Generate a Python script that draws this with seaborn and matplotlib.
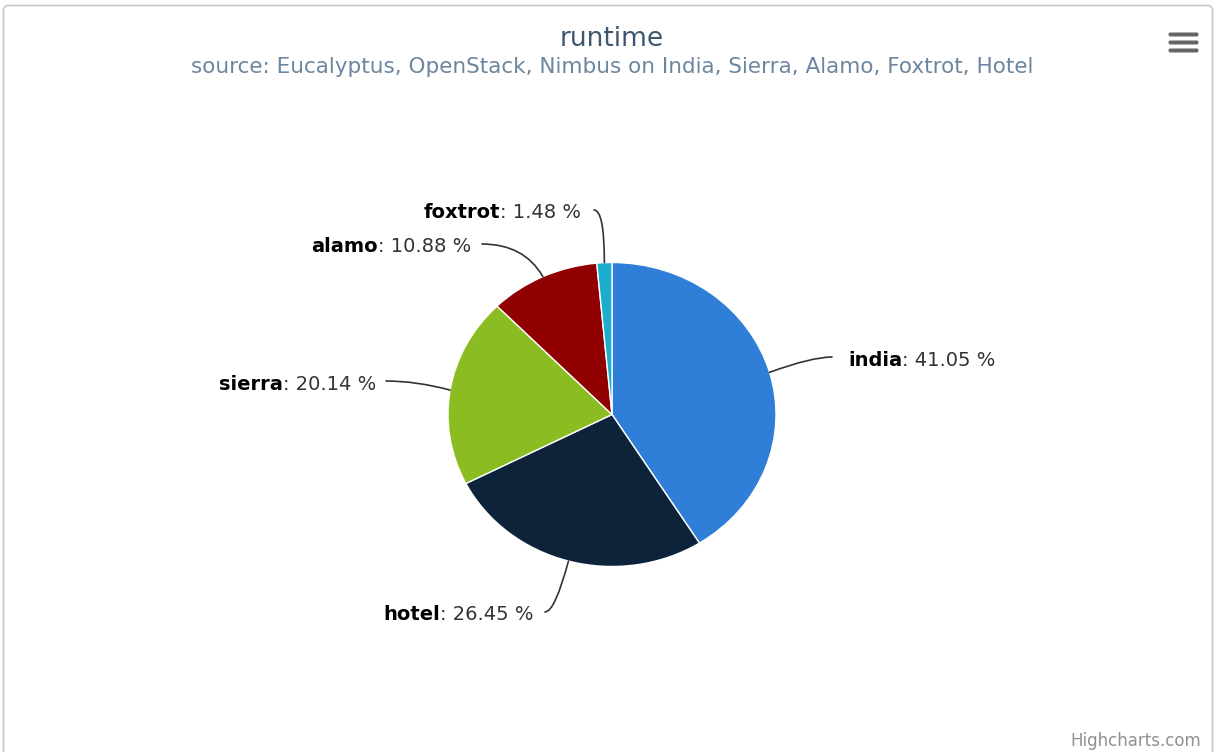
import numpy as np
import matplotlib
matplotlib.use("Agg")
import matplotlib.pyplot as plt
import seaborn as sns
from matplotlib.offsetbox import TextArea, HPacker, AnnotationBbox
from matplotlib.patches import FancyBboxPatch

# ---- data ----
categories = ["india", "hotel", "sierra", "alamo", "foxtrot"]
shares = [41.05, 26.45, 20.14, 10.88, 1.48]
colors = ["#2f7ed8", "#0d233a", "#8bbc21", "#910000", "#1aadce"]
title = "runtime"
subtitle = "source: Eucalyptus, OpenStack, Nimbus on India, Sierra, Alamo, Foxtrot, Hotel"

sns.set_theme(style="white")
plt.rcParams["font.family"] = ["DejaVu Sans"]

W, H = 1215, 752
fig = plt.figure(figsize=(W / 100, H / 100), dpi=100)
fig.patch.set_facecolor("white")

# full-figure overlay in pixel coords (y down)
bg = fig.add_axes([0, 0, 1, 1])
bg.set_xlim(0, W)
bg.set_ylim(H, 0)
bg.axis("off")
bg.add_patch(FancyBboxPatch((3.5, 5.5), W - 6, H + 20, boxstyle="round,pad=0,rounding_size=5",
                            fc="white", ec="#c8c8c8", lw=1.2, clip_on=False))
for yc in (34.5, 42.5, 50.5):
    bg.add_patch(FancyBboxPatch((1169, yc - 1.6), 29, 3.2,
                                boxstyle="round,pad=0.4,rounding_size=1.6",
                                fc="#666666", ec="none"))

# pie axes (slightly elliptical like the reference)
cx, cy, rx, ry = 612, 414.5, 164, 152
ax = fig.add_axes([(cx - rx) / W, (H - cy - ry) / H, 2 * rx / W, 2 * ry / H])
wedges, _ = ax.pie(np.array(shares), colors=colors, startangle=90, counterclock=False,
                   wedgeprops=dict(edgecolor="white", linewidth=1.0), radius=1.0)
ax.set_aspect("auto")
ax.set_xlim(-1, 1)
ax.set_ylim(-1, 1)
ax.axis("off")

fig.text(cx / W, 1 - 39 / H, title, ha="center", va="center", fontsize=19, color="#3E576F")
fig.text(cx / W, 1 - 67 / H, subtitle, ha="center", va="center", fontsize=15.5,
         color="#6D869F")
fig.text(1201 / W, 1 - 741 / H, "Highcharts.com", ha="right", va="center", fontsize=12,
         color="#909090")

# label layout in pixels: (text anchor x, y, align, connector start x, y, angleB)
layout = {
    "india": (848, 360, "left", 832, 357, 20),
    "hotel": (534, 614, "right", 545, 612, 75),
    "sierra": (376, 384, "right", 386, 381, -15),
    "alamo": (471, 246, "right", 482, 244, 120),
    "foxtrot": (581, 212, "right", 594, 210, 90),
}

total = sum(shares)
start = 90.0
fs = 14
for name, val in zip(categories, shares):
    sweep = val / total * 360
    mid = np.deg2rad(start - sweep / 2)
    start -= sweep
    tx, ty, align, sx, sy, angB = layout[name]
    edge = (np.cos(mid), np.sin(mid))
    ax.annotate("", xy=edge, xycoords="data", xytext=(sx, H - sy), textcoords="figure pixels",
                arrowprops=dict(arrowstyle="-", color="#333333", lw=1.2, shrinkA=0, shrinkB=0,
                                connectionstyle=f"angle3,angleA=0,angleB={angB}"),
                annotation_clip=False)
    box = HPacker(children=[
        TextArea(name, textprops=dict(fontsize=fs, fontweight="bold", color="#000000")),
        TextArea(f": {val:.2f} %", textprops=dict(fontsize=fs, color="#333333")),
    ], pad=0, sep=0, align="baseline")
    ab = AnnotationBbox(box, (tx, H - ty), xycoords="figure pixels", frameon=False,
                        box_alignment=(0 if align == "left" else 1, 0.5), pad=0,
                        annotation_clip=False)
    fig.add_artist(ab)

fig.savefig("out.png", dpi=100, facecolor="white")
